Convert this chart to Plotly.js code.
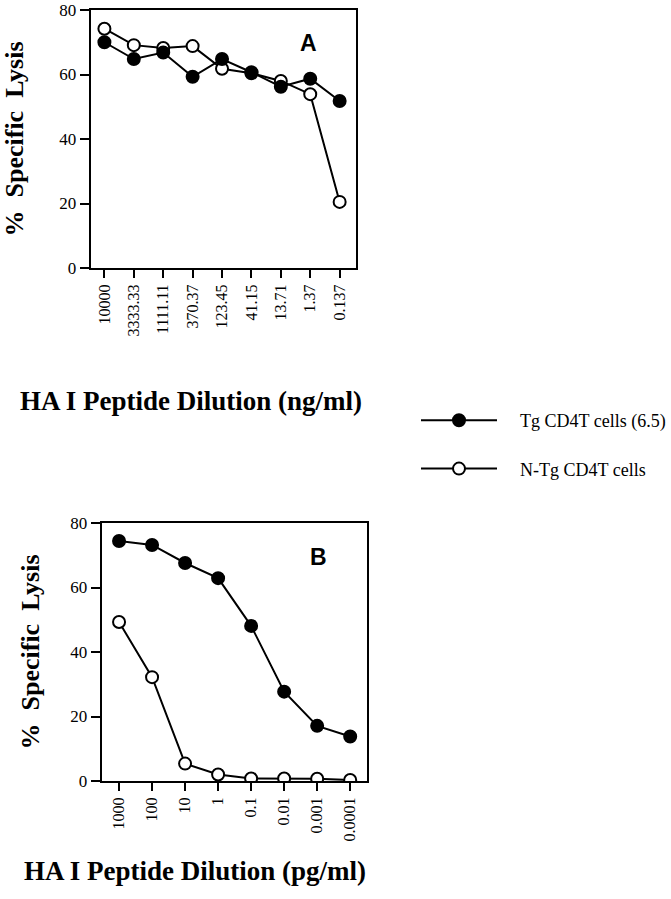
<!DOCTYPE html>
<html><head><meta charset="utf-8">
<script src="https://cdn.plot.ly/plotly-3.0.1.min.js"></script>
<style>body{margin:0;background:#fff}#c{width:671px;height:899px}</style>
</head><body><div id="c"></div>
<script>
const dosesA = ["10000","3333.33","1111.11","370.37","123.45","41.15","13.71","1.37","0.137"];
const tgA  = [70, 64.8, 66.8, 59.3, 64.8, 60.7, 56.2, 58.7, 51.8];
const ntgA = [74.2, 69.1, 68.2, 68.8, 61.8, 60.4, 58.0, 53.9, 20.5];
const dosesB = ["1000","100","10","1","0.1","0.01","0.001","0.0001"];
const tgB  = [74.4, 73.2, 67.6, 62.9, 48.1, 27.7, 17.1, 13.8];
const ntgB = [49.3, 32.2, 5.4, 2.0, 0.8, 0.8, 0.7, 0.3];
const names = ["Tg CD4T cells (6.5)", "N-Tg CD4T cells"];
const xTitles = ["HA I Peptide Dilution (ng/ml)", "HA I Peptide Dilution (pg/ml)"];
const yTitle = "%  Specific  Lysis";
const panelLabels = ["A", "B"];

const serif = "Liberation Serif, Times New Roman, serif";
const sans = "Liberation Sans, Arial, sans-serif";
const line = {color:"#000", width:2};
const filled = {symbol:"circle", size:12, color:"#000", line:{color:"#000", width:2}};
const open = {symbol:"circle", size:12, color:"#fff", line:{color:"#000", width:2}};
const pad = "&nbsp;&nbsp;&nbsp;&nbsp;";

const traces = [
  {x:dosesA, y:ntgA, xaxis:"x", yaxis:"y", mode:"lines+markers", line:line, marker:open, name:pad+names[1], legendgroup:"g2", legendrank:2},
  {x:dosesA, y:tgA, xaxis:"x", yaxis:"y", mode:"lines+markers", line:line, marker:filled, name:pad+names[0], legendgroup:"g1", legendrank:1},
  {x:dosesB, y:ntgB, xaxis:"x2", yaxis:"y2", mode:"lines+markers", line:line, marker:open, name:names[1], showlegend:false},
  {x:dosesB, y:tgB, xaxis:"x2", yaxis:"y2", mode:"lines+markers", line:line, marker:filled, name:names[0], showlegend:false}
];

function xax(domain, range, anchor){
  return {domain:domain, anchor:anchor, type:"category", range:range, showline:true, mirror:true, linecolor:"#000", linewidth:2,
    ticks:"outside", ticklen:8, tickwidth:2, tickcolor:"#000", tickangle:-90, showgrid:false, zeroline:false,
    tickfont:{family:serif, size:16, color:"#000"}, automargin:false, ticklabeloverflow:"allow"};
}
function yax(domain, anchor, standoff){
  return {domain:domain, anchor:anchor, range:[0,80], tickvals:[0,20,40,60,80], showline:true, mirror:true, linecolor:"#000", linewidth:2,
    ticks:"outside", ticklen:9, tickwidth:2, tickcolor:"#000", showgrid:false, zeroline:false,
    tickfont:{family:serif, size:17, color:"#000"}, ticklabeloverflow:"allow",
    title:{text:yTitle, font:{family:serif, size:26, color:"#000", weight:"bold"}, standoff:standoff}, automargin:false};
}
function ann(text, x, y, font){
  return {text:text, xref:"paper", yref:"paper", x:x, y:y, xanchor:"center", yanchor:"middle", showarrow:false, font:font};
}
const titleFont = {family:serif, size:27, color:"#000", weight:"bold"};
const labelFont = {family:sans, size:23, color:"#000", weight:"bold"};

const layout = {
  width:671, height:899, margin:{l:0,r:0,t:0,b:0}, paper_bgcolor:"#fff", plot_bgcolor:"#fff",
  xaxis: xax([91/671, 358/671], [-0.47, 8.57], "y"),
  yaxis: yax([1-268/899, 1-10/899], "x", 29),
  xaxis2: xax([102/671, 369/671], [-0.53, 7.52], "y2"),
  yaxis2: yax([1-781/899, 1-523/899], "x2", 23),
  showlegend:true,
  legend:{x:418/671, y:1-402/899, xanchor:"left", yanchor:"top", itemwidth:76, tracegroupgap:22,
    font:{family:serif, size:18, color:"#000"}, bgcolor:"rgba(0,0,0,0)", traceorder:"grouped"},
  annotations:[
    ann(panelLabels[0], 310/671, 1-43.5/899, labelFont),
    ann(panelLabels[1], 320/671, 1-557/899, labelFont),
    ann(xTitles[0], 192/671, 1-401/899, titleFont),
    ann(xTitles[1], 196/671, 1-871/899, titleFont)
  ]
};
Plotly.newPlot("c", traces, layout, {displayModeBar:false, staticPlot:true});
</script></body></html>
